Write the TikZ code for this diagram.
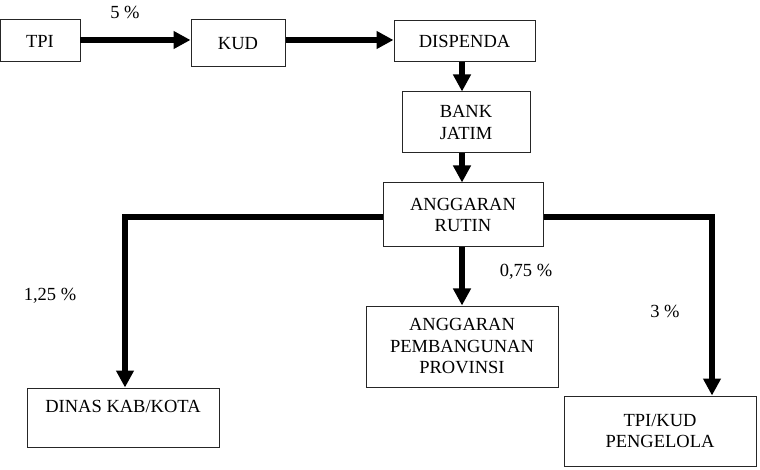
\documentclass[tikz,border=0pt]{standalone}
\usepackage{fontspec}
\setmainfont{Liberation Serif}
\usetikzlibrary{arrows.meta}
\begin{document}
\begin{tikzpicture}[x=1pt,y=-1pt,
  every node/.style={font=\fontsize{18.5}{21.5}\selectfont, inner sep=0pt},
  box/.style={draw=black!85, line width=1pt, align=center},
  flow/.style={line width=6pt, -{Triangle[length=17pt,width=17pt]}},
  pline/.style={line width=6pt}]
\useasboundingbox (0,0) rectangle (760,470);
\node[box, minimum width=80, minimum height=42] (tpi) at (40,41) {TPI};
\node[box, minimum width=94, minimum height=47] (kud) at (238,43.5) {KUD};
\node[box, minimum width=141, minimum height=41] (dis) at (464.5,41.5) {DISPENDA};
\node[box, minimum width=128, minimum height=61] (bank) at (466,122.5) {BANK\\JATIM};
\node[box, minimum width=160, minimum height=64] (ar) at (463,215) {ANGGARAN\\RUTIN};
\node[box, minimum width=192, minimum height=81] (app) at (462,346.5) {ANGGARAN\\PEMBANGUNAN\\PROVINSI};
\node[box, minimum width=192, minimum height=59] (dinas) at (123,417.5) {DINAS KAB/KOTA\\\mbox{}};
\node[box, minimum width=192, minimum height=70] (tk) at (660,431) {TPI/KUD\\PENGELOLA};
\coordinate (cl) at (125,217);
\coordinate (cr) at (712,217);
\draw[flow] (80,40) -- (kud.west |- 0,40);
\draw[flow] (kud.east |- 0,40) -- (dis.west |- 0,40);
\draw[flow] (dis.south -| 462,0) -- (bank.north -| 462,0);
\draw[flow] (bank.south -| 462,0) -- (ar.north -| 462,0);
\draw[flow] (ar.south -| 462,0) -- (app.north -| 462,0);
\draw[flow] (ar.west |- cl) -- (cl) -- (cl |- dinas.north);
\draw[flow] (ar.east |- cr) -- (cr) -- (cr |- tk.north);
\node (l5) at (125,12) {5 \%};
\node (l125) at (50,296) {1,25 \%};
\node (l075) at (526,272) {0,75 \%};
\node (l3) at (665,311) {3 \%};
\end{tikzpicture}
\end{document}
